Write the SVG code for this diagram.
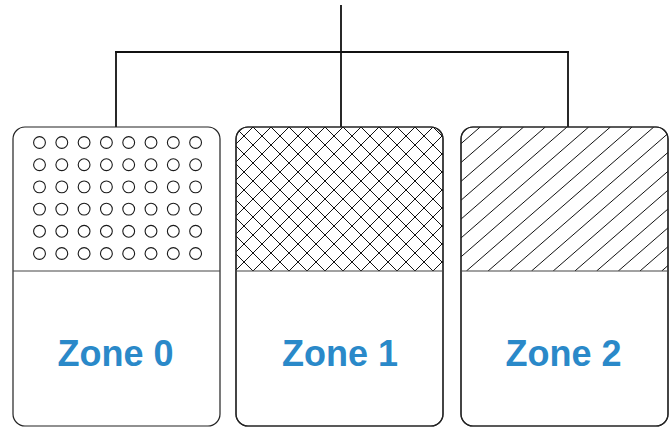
<svg xmlns="http://www.w3.org/2000/svg" width="671" height="427" viewBox="0 0 671 427">
  <style>
    .conn { stroke: #111; stroke-width: 1.8; fill: none; stroke-linecap: square; }
    .box { fill: #fff; stroke: #222; stroke-width: 1.2; }
    .frame { fill: none; stroke: #222; stroke-width: 1.2; }
    .divider { stroke: #444; stroke-width: 1.2; }
    .dot { fill: #fff; stroke: #1a1a1a; stroke-width: 1.1; }
    .hatch { fill: none; stroke: #111; stroke-width: 1; }
    .label { font-family: "Liberation Sans", Arial, sans-serif; font-weight: bold; font-size: 36px; fill: #2a89c9; text-anchor: middle; }
  </style>
  <defs>
    <circle id="c" r="5.9" class="dot"/>
    <g id="row">
      <use href="#c" x="39.5"/><use href="#c" x="61.8"/><use href="#c" x="84.1"/><use href="#c" x="106.4"/>
      <use href="#c" x="128.7"/><use href="#c" x="151"/><use href="#c" x="173.3"/><use href="#c" x="195.6"/>
    </g>
    <pattern id="cross" patternUnits="userSpaceOnUse" x="388" y="262" width="18" height="18">
      <path d="M0,0 L18,18 M0,18 L18,0 M-1,17 L1,19 M17,-1 L19,1 M-1,1 L1,-1 M17,19 L19,17" stroke="#111" stroke-width="1" fill="none"/>
    </pattern>
    <clipPath id="clip1"><rect x="236" y="127" width="207" height="299" rx="12"/></clipPath>
    <clipPath id="clip2"><rect x="461" y="127" width="207" height="144"/></clipPath>
    <clipPath id="clip2r"><rect x="461" y="127" width="207" height="299" rx="12"/></clipPath>
  </defs>

  <g id="connectors">
    <line class="conn" x1="341" y1="6" x2="341" y2="127"/>
    <line class="conn" x1="116" y1="52" x2="568" y2="52"/>
    <line class="conn" x1="116" y1="52" x2="116" y2="127"/>
    <line class="conn" x1="568" y1="52" x2="568" y2="127"/>
  </g>

  <g id="zone0">
    <rect class="box" x="13" y="127" width="207" height="299" rx="12"/>
    <use href="#row" y="142.5"/>
    <use href="#row" y="164.7"/>
    <use href="#row" y="186.9"/>
    <use href="#row" y="209.1"/>
    <use href="#row" y="231.3"/>
    <use href="#row" y="253.5"/>
    <line class="divider" x1="13" y1="271" x2="220" y2="271"/>
    <text class="label" x="115.5" y="366">Zone 0</text>
  </g>

  <g id="zone1">
    <rect class="box" x="236" y="127" width="207" height="299" rx="12"/>
    <rect x="236" y="127" width="207" height="144" fill="url(#cross)" clip-path="url(#clip1)"/>
    <rect class="frame" x="236" y="127" width="207" height="299" rx="12"/>
    <line class="divider" x1="236" y1="271" x2="443" y2="271"/>
    <text class="label" x="340" y="366">Zone 1</text>
  </g>

  <g id="zone2">
    <rect class="box" x="461" y="127" width="207" height="299" rx="12"/>
    <g clip-path="url(#clip2r)">
      <path class="hatch" clip-path="url(#clip2)" d="M292.8,271 L458.5,127 M314.5,271 L480.2,127 M336.2,271 L501.9,127 M357.9,271 L523.6,127 M379.6,271 L545.3,127 M401.3,271 L567,127 M423,271 L588.7,127 M444.7,271 L610.4,127 M466.4,271 L632.1,127 M488.1,271 L653.8,127 M509.8,271 L675.5,127 M531.5,271 L697.2,127 M553.2,271 L718.9,127 M574.9,271 L740.6,127 M596.6,271 L762.3,127 M618.3,271 L784,127 M640,271 L805.7,127 M661.7,271 L827.4,127"/>
    </g>
    <rect class="frame" x="461" y="127" width="207" height="299" rx="12"/>
    <line class="divider" x1="461" y1="271" x2="668" y2="271"/>
    <text class="label" x="563.5" y="366">Zone 2</text>
  </g>
</svg>
